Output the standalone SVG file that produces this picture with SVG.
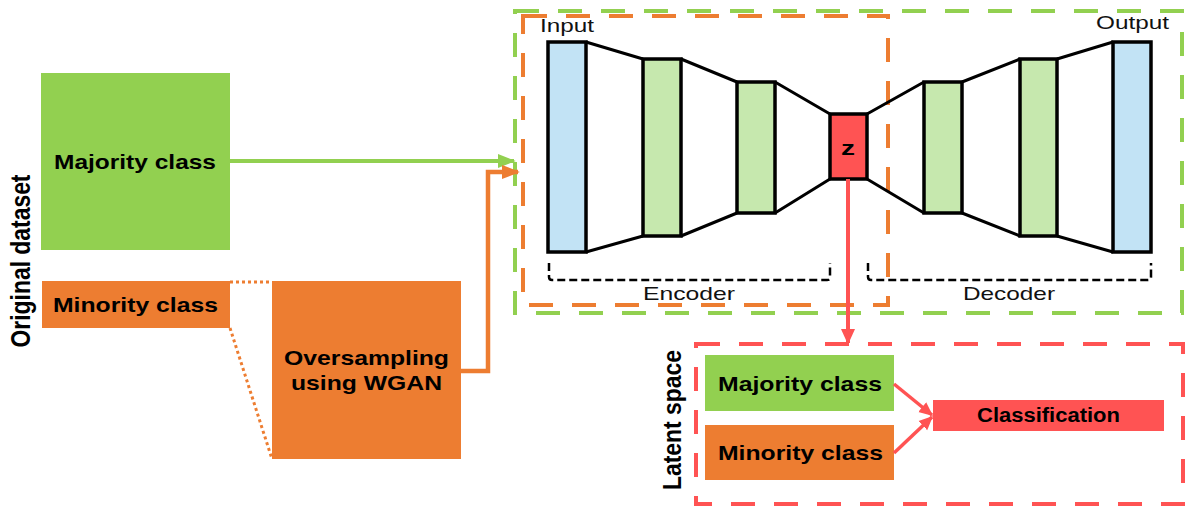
<svg xmlns="http://www.w3.org/2000/svg" width="1188" height="509" viewBox="0 0 1188 509">
<defs>
<style>
.lbl{font-family:"Liberation Sans",Arial,sans-serif;font-weight:bold;font-size:21px;fill:#000;text-anchor:middle}
.thin{font-family:"Liberation Sans",Arial,sans-serif;font-size:19px;fill:#111;text-anchor:middle}
.layer{stroke:#000;stroke-width:3.5}
.blue{fill:#c2e3f5}
.lg{fill:#c6e8ae}
.edge{stroke:#000;stroke-width:3;fill:none}
.dash{fill:none;stroke-width:4;stroke-dasharray:24 19}
.brk{fill:none;stroke:#000;stroke-width:2.5;stroke-dasharray:8 4}
</style>
<marker id="ag" viewBox="0 0 10 10" refX="9" refY="5" markerWidth="4.5" markerHeight="4.5" markerUnits="strokeWidth" orient="auto"><path d="M0,1 L10,5 L0,9 z" fill="#92d050"/></marker>
<marker id="ao" viewBox="0 0 10 10" refX="9" refY="5" markerWidth="4" markerHeight="4" markerUnits="strokeWidth" orient="auto"><path d="M0,1 L10,5 L0,9 z" fill="#ed7d31"/></marker>
<marker id="ar" viewBox="0 0 10 10" refX="9" refY="5" markerWidth="4" markerHeight="4" markerUnits="strokeWidth" orient="auto"><path d="M0,0.5 L10,5 L0,9.5 z" fill="#ff5353"/></marker>
</defs>
<rect width="1188" height="509" fill="#fff"/>

<g id="boxes-dashed">
<rect x="515" y="11" width="667" height="302" class="dash" stroke="#92d050"/>
<rect x="523" y="16" width="365" height="289" class="dash" stroke="#ed7d31"/>
<rect x="696" y="344" width="487" height="160" class="dash" stroke="#ff5353"/>
</g>

<g id="original-label"><text class="lbl" transform="translate(30,261) scale(1.25,1) rotate(-90)" style="font-size:22.5px" textLength="173" lengthAdjust="spacingAndGlyphs">Original dataset</text></g>

<g id="majority"><rect x="41" y="73" width="189" height="177" fill="#92d050"/><text class="lbl" x="135" y="169" textLength="162" lengthAdjust="spacingAndGlyphs">Majority class</text></g>
<g id="minority"><rect x="42" y="281" width="188" height="47" fill="#ed7d31"/><text class="lbl" x="135.5" y="312" textLength="165" lengthAdjust="spacingAndGlyphs">Minority class</text></g>
<g id="wgan"><rect x="272" y="281" width="189" height="178" fill="#ed7d31"/><text class="lbl" x="366.5" y="365" textLength="165" lengthAdjust="spacingAndGlyphs">Oversampling</text><text class="lbl" x="366.5" y="390" textLength="151" lengthAdjust="spacingAndGlyphs">using WGAN</text></g>

<g id="encoder">
<text class="thin" x="567" y="32" textLength="54" lengthAdjust="spacingAndGlyphs">Input</text>
<rect x="548" y="42" width="38" height="210" class="layer blue"/>
<rect x="643" y="59" width="38" height="177" class="layer lg"/>
<rect x="737" y="82" width="38" height="131" class="layer lg"/>
<path class="brk" d="M549,263 v14 q0,3 3,3 h275 q3,0 3,-3 v-14"/>
<text class="thin" x="689" y="300" textLength="92" lengthAdjust="spacingAndGlyphs">Encoder</text>
</g>
<g id="z"><rect x="830" y="114" width="37" height="65" class="layer" fill="#ff5353"/><text class="lbl" x="848" y="155" textLength="14" lengthAdjust="spacingAndGlyphs">z</text></g>
<g id="decoder">
<rect x="924" y="82" width="38" height="131" class="layer lg"/>
<rect x="1020" y="59" width="37" height="177" class="layer lg"/>
<rect x="1113" y="42" width="38" height="210" class="layer blue"/>
<text class="thin" x="1132.5" y="29" textLength="73" lengthAdjust="spacingAndGlyphs">Output</text>
<path class="brk" d="M868,263 v14 q0,3 3,3 h277 q3,0 3,-3 v-14"/>
<text class="thin" x="1009" y="300" textLength="92" lengthAdjust="spacingAndGlyphs">Decoder</text>
</g>

<g id="latent-label"><text class="lbl" transform="translate(681,420) scale(1.15,1) rotate(-90)" style="font-size:23px" textLength="140" lengthAdjust="spacingAndGlyphs">Latent space</text></g>
<g id="lat-majority"><rect x="705" y="355" width="189" height="56" fill="#92d050"/><text class="lbl" x="800" y="391" textLength="164" lengthAdjust="spacingAndGlyphs">Majority class</text></g>
<g id="lat-minority"><rect x="705" y="425" width="189" height="55" fill="#ed7d31"/><text class="lbl" x="800.5" y="460" textLength="165" lengthAdjust="spacingAndGlyphs">Minority class</text></g>
<g id="classification"><rect x="933" y="400" width="231" height="31" fill="#ff5353"/><text class="lbl" x="1048.5" y="422" style="font-size:20px" textLength="143" lengthAdjust="spacingAndGlyphs">Classification</text></g>

<g id="connectors">
<line x1="230" y1="161" x2="514" y2="161" stroke="#92d050" stroke-width="4" marker-end="url(#ag)"/>
<polyline points="461,371 488,371 488,172 518,172" fill="none" stroke="#ed7d31" stroke-width="4.5" marker-end="url(#ao)"/>
<line x1="230" y1="282" x2="272" y2="282" stroke="#ed7d31" stroke-width="3" stroke-dasharray="3 3"/>
<line x1="230" y1="328" x2="272" y2="459" stroke="#ed7d31" stroke-width="3" stroke-dasharray="3 3"/>
<line x1="848" y1="179" x2="848" y2="343" stroke="#ff5353" stroke-width="4" marker-end="url(#ar)"/>
<line x1="894" y1="384" x2="932" y2="415" stroke="#ff5353" stroke-width="3.5" marker-end="url(#ar)"/>
<line x1="894" y1="453" x2="932" y2="417" stroke="#ff5353" stroke-width="3.5" marker-end="url(#ar)"/>
<path class="edge" d="M586,42 L643,59 M586,252 L643,236 M681,59 L737,82 M681,236 L737,213 M775,82 L830,114 M775,213 L830,179 M867,114 L924,82 M867,179 L924,213 M962,82 L1020,59 M962,213 L1020,236 M1057,59 L1113,42 M1057,236 L1113,252"/>
</g>
</svg>
